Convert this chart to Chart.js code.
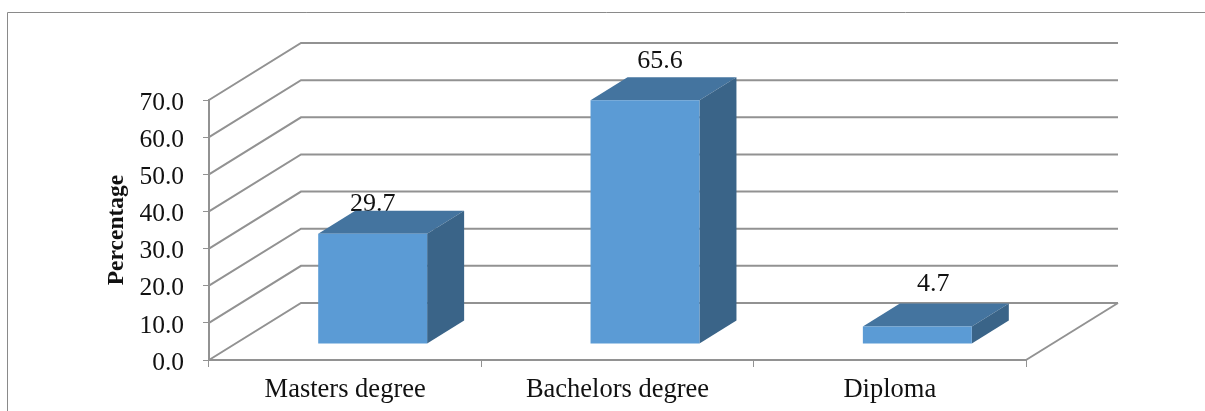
<!DOCTYPE html>
<html>
<head>
<meta charset="utf-8">
<script src="https://cdn.jsdelivr.net/npm/chart.js@4"></script>
<style>
    html, body { margin: 0; padding: 0; background: #fff; overflow: hidden; }
    #wrap { width: 1205px; height: 411px; }
    #myChart { filter: blur(0.5px); }
</style>
</head>
<body>
<div id="wrap"><canvas id="myChart" width="1205" height="411"></canvas></div>
<script>
const categories = ['Masters degree', 'Bachelors degree', 'Diploma'];
const percentages = [29.7, 65.6, 4.7];
const yMax = 70;
const yStep = 10;

const lineColor = '#929292';
const textFont = '"Liberation Serif", serif';

// fake 3D box look, the wall and the bars are pushed back by these offsets
const wallDepth = { x: 92, y: -57 };
const barDepth = { x: 37, y: -23 };
const barShift = { x: 27.5, y: -16 };
// value labels are not centred the same way on each bar in the original
const labelNudge = [{ x: 0, y: -30 }, { x: 15, y: -39 }, { x: 16, y: -42 }];

const box3d = {
    id: 'box3d',
    beforeDraw(chart) {
        const c = chart.ctx;
        c.save();
        c.strokeStyle = '#8a8a8a';
        c.lineWidth = 1;
        c.beginPath();
        c.moveTo(7.5, 411);
        c.lineTo(7.5, 12.5);
        c.lineTo(1205, 12.5);
        c.stroke();
        c.restore();
    },
    beforeDatasetsDraw(chart) {
        const c = chart.ctx;
        const yScale = chart.scales.y;
        const left = chart.chartArea.left;
        const right = chart.chartArea.right;
        c.save();
        c.strokeStyle = lineColor;
        c.lineWidth = 2;
        yScale.ticks.forEach(function(t) {
            const y = yScale.getPixelForValue(t.value);
            c.beginPath();
            c.moveTo(left, y);
            c.lineTo(left + wallDepth.x, y + wallDepth.y);
            c.lineTo(right + wallDepth.x, y + wallDepth.y);
            c.stroke();
        });
        // right edge of the floor
        const y0 = yScale.getPixelForValue(0);
        c.beginPath();
        c.moveTo(right, y0);
        c.lineTo(right + wallDepth.x, y0 + wallDepth.y);
        c.stroke();

        // labels go under the bars, the first one gets partly hidden
        c.fillStyle = '#111';
        c.font = '26px ' + textFont;
        c.textAlign = 'center';
        c.textBaseline = 'middle';
        chart.getDatasetMeta(0).data.forEach(function(bar, i) {
            c.fillText(percentages[i].toFixed(1),
                bar.x + barShift.x + labelNudge[i].x,
                yScale.getPixelForValue(percentages[i]) + barShift.y + labelNudge[i].y);
        });
        c.restore();
    },
    beforeDatasetDraw(chart) {
        const c = chart.ctx;
        c.save();
        c.translate(barShift.x, barShift.y);
        chart.getDatasetMeta(0).data.forEach(function(bar) {
            const l = bar.x - bar.width / 2;
            const r = bar.x + bar.width / 2;
            c.fillStyle = '#44749f';
            c.beginPath();
            c.moveTo(l, bar.y);
            c.lineTo(l + barDepth.x, bar.y + barDepth.y);
            c.lineTo(r + barDepth.x, bar.y + barDepth.y);
            c.lineTo(r, bar.y);
            c.closePath();
            c.fill();
            c.fillStyle = '#3a6488';
            c.beginPath();
            c.moveTo(r, bar.y);
            c.lineTo(r + barDepth.x, bar.y + barDepth.y);
            c.lineTo(r + barDepth.x, bar.base + barDepth.y);
            c.lineTo(r, bar.base);
            c.closePath();
            c.fill();
        });
    },
    afterDatasetDraw(chart) {
        chart.ctx.restore();
    }
};

new Chart(document.getElementById('myChart').getContext('2d'), {
    type: 'bar',
    plugins: [box3d],
    data: {
        labels: categories,
        datasets: [{
            label: 'Percentage',
            data: percentages,
            backgroundColor: '#5b9bd5',
            borderWidth: 0,
            barPercentage: 0.4,
            categoryPercentage: 1,
            clip: false
        }]
    },
    options: {
        responsive: false,
        animation: false,
        layout: { padding: { top: 100, right: 179, left: 0, bottom: 0 } },
        plugins: {
            legend: { display: false },
            tooltip: { enabled: false }
        },
        scales: {
            x: {
                afterFit(scale) { scale.height = 51; },
                grid: { drawOnChartArea: false, color: lineColor, tickLength: 7 },
                border: { color: lineColor, width: 2 },
                ticks: {
                    color: '#111',
                    padding: 7,
                    maxRotation: 0,
                    font: { family: textFont, size: 26.5 }
                }
            },
            y: {
                min: 0,
                max: yMax,
                afterFit(scale) { scale.width = 209; },
                grid: { drawOnChartArea: false, color: lineColor, tickLength: 6 },
                border: { color: lineColor, width: 2 },
                ticks: {
                    stepSize: yStep,
                    color: '#111',
                    padding: 19,
                    labelOffset: 3,
                    callback: function(v) { return v.toFixed(1); },
                    font: { family: textFont, size: 25.5 }
                },
                title: {
                    display: true,
                    text: 'Percentage',
                    color: '#111',
                    padding: { top: 103, bottom: 0 },
                    font: { family: textFont, size: 23.5, weight: 'bold' }
                }
            }
        }
    }
});
</script>
</body>
</html>
